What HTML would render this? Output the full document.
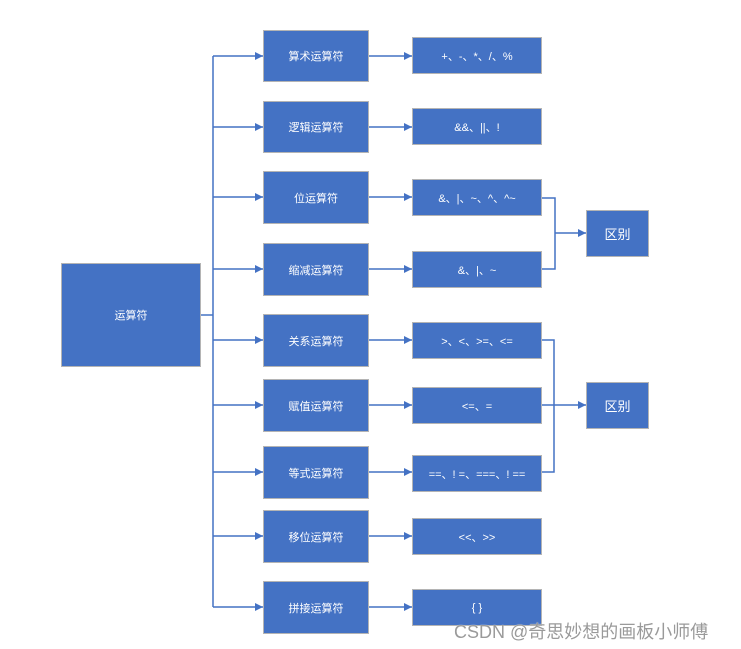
<!DOCTYPE html>
<html><head><meta charset="utf-8"><style>
body{margin:0;background:#fff;width:741px;height:649px;overflow:hidden;font-family:"Liberation Sans","Noto Sans CJK SC",sans-serif}
.b{position:absolute;background:#4472c4;border:1px solid #b4b4b4;box-sizing:border-box;color:#fff;font-size:11px;display:flex;align-items:center;justify-content:center}
svg{position:absolute;left:0;top:0}
.wm{position:absolute;left:454px;top:618px;font-size:18px;color:#9a9a9a;white-space:nowrap;text-shadow:0 0 1px #fff}
</style></head><body>
<svg width="741" height="649">
<defs><marker id="a" markerWidth="8" markerHeight="8" refX="8" refY="4" orient="auto" markerUnits="userSpaceOnUse"><path d="M0,0L8,4L0,8z" fill="#4472c4"/></marker></defs>
<g stroke="#4472c4" stroke-width="1.5" fill="none">
<path d="M200,315H213"/>
<path d="M213,56V607"/>
<path d="M213,56H263" marker-end="url(#a)"/>
<path d="M213,127H263" marker-end="url(#a)"/>
<path d="M213,197H263" marker-end="url(#a)"/>
<path d="M213,269H263" marker-end="url(#a)"/>
<path d="M213,340H263" marker-end="url(#a)"/>
<path d="M213,405H263" marker-end="url(#a)"/>
<path d="M213,472H263" marker-end="url(#a)"/>
<path d="M213,536H263" marker-end="url(#a)"/>
<path d="M213,607H263" marker-end="url(#a)"/>
<path d="M368,56H412" marker-end="url(#a)"/>
<path d="M368,127H412" marker-end="url(#a)"/>
<path d="M368,197H412" marker-end="url(#a)"/>
<path d="M368,269H412" marker-end="url(#a)"/>
<path d="M368,340H412" marker-end="url(#a)"/>
<path d="M368,405H412" marker-end="url(#a)"/>
<path d="M368,472H412" marker-end="url(#a)"/>
<path d="M368,536H412" marker-end="url(#a)"/>
<path d="M368,607H412" marker-end="url(#a)"/>
<path d="M541,198H555V269H541"/>
<path d="M555,233H586" marker-end="url(#a)"/>
<path d="M541,340H554V472H541"/>
<path d="M541,405H586" marker-end="url(#a)"/>
</g></svg>
<div class="b" style="left:61px;top:263px;width:140px;height:104px">运算符</div>
<div class="b" style="left:263px;top:30px;width:106px;height:52px">算术运算符</div>
<div class="b" style="left:263px;top:101px;width:106px;height:52px">逻辑运算符</div>
<div class="b" style="left:263px;top:171px;width:106px;height:53px">位运算符</div>
<div class="b" style="left:263px;top:243px;width:106px;height:53px">缩减运算符</div>
<div class="b" style="left:263px;top:314px;width:106px;height:53px">关系运算符</div>
<div class="b" style="left:263px;top:379px;width:106px;height:53px">赋值运算符</div>
<div class="b" style="left:263px;top:446px;width:106px;height:53px">等式运算符</div>
<div class="b" style="left:263px;top:510px;width:106px;height:53px">移位运算符</div>
<div class="b" style="left:263px;top:581px;width:106px;height:53px">拼接运算符</div>
<div class="b" style="left:412px;top:37px;width:130px;height:37px">+、-、*、/、%</div>
<div class="b" style="left:412px;top:108px;width:130px;height:37px">&amp;&amp;、||、!</div>
<div class="b" style="left:412px;top:179px;width:130px;height:37px">&amp;、|、~、^、^~</div>
<div class="b" style="left:412px;top:251px;width:130px;height:37px">&amp;、|、~</div>
<div class="b" style="left:412px;top:322px;width:130px;height:37px">&gt;、&lt;、&gt;=、&lt;=</div>
<div class="b" style="left:412px;top:387px;width:130px;height:37px">&lt;=、=</div>
<div class="b" style="left:412px;top:455px;width:130px;height:37px">==、! =、===、! ==</div>
<div class="b" style="left:412px;top:518px;width:130px;height:37px">&lt;&lt;、&gt;&gt;</div>
<div class="b" style="left:412px;top:589px;width:130px;height:37px">{ }</div>
<div class="b" style="left:586px;top:210px;width:63px;height:47px;font-size:13px">区别</div>
<div class="b" style="left:586px;top:382px;width:63px;height:47px;font-size:13px">区别</div>
<div class="wm">CSDN @奇思妙想的画板小师傅</div>
</body></html>
